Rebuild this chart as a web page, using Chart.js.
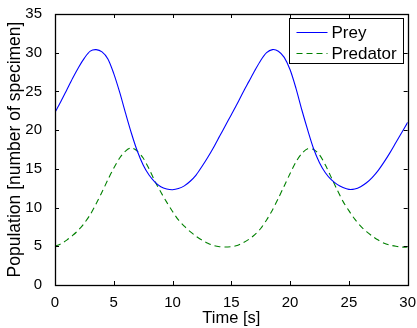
<!DOCTYPE html>
<html>
<head>
<meta charset="utf-8">
<script src="https://cdn.jsdelivr.net/npm/chart.js@4.4.1/dist/chart.umd.min.js"></script>
<style>
  html, body { margin: 0; padding: 0; background: #fff; }
  #wrap { width: 417px; height: 328px; position: relative; }
</style>
</head>
<body>
<div id="wrap"><canvas id="lvCV"></canvas></div>
<script>
// time axis [s], one sample each half second
const times = [0, 0.5, 1, 1.5, 2, 2.5, 3, 3.5, 4, 4.5, 5, 5.5, 6, 6.5, 7, 7.5, 8, 8.5, 9, 9.5,
  10, 10.5, 11, 11.5, 12, 12.5, 13, 13.5, 14, 14.5, 15, 15.5, 16, 16.5, 17, 17.5, 18, 18.5, 19, 19.5,
  20, 20.5, 21, 21.5, 22, 22.5, 23, 23.5, 24, 24.5, 25, 25.5, 26, 26.5, 27, 27.5, 28, 28.5, 29, 29.5, 30];

const prey = [22.3, 23.7, 25.2, 26.7, 28.1, 29.3, 30.2, 30.4, 30.1, 29.2,
  27.3, 24.9, 22.2, 19.6, 17.3, 15.5, 14.2, 13.3, 12.7, 12.4,
  12.3, 12.45, 12.8, 13.4, 14.2, 15.3, 16.5, 17.8, 19.2, 20.6,
  22.0, 23.4, 24.9, 26.3, 27.7, 29.0, 30.0, 30.4, 30.2, 29.4,
  27.8, 25.4, 22.6, 20.0, 17.6, 15.8, 14.5, 13.6, 13.0, 12.6,
  12.35, 12.4, 12.7, 13.2, 13.9, 14.8, 15.9, 17.1, 18.4, 19.7, 21.0];

const predator = [5.0, 5.3, 5.8, 6.4, 7.1, 8.0, 9.1, 10.5, 12.0, 13.6,
  15.1, 16.4, 17.3, 17.7, 17.3, 16.4, 15.0, 13.4, 12.0, 10.7,
  9.5, 8.4, 7.6, 6.9, 6.3, 5.8, 5.4, 5.1, 4.95, 4.9,
  4.95, 5.1, 5.45, 5.9, 6.5, 7.3, 8.4, 9.7, 11.2, 12.8,
  14.4, 15.9, 17.0, 17.6, 17.5, 16.8, 15.5, 13.9, 12.3, 10.8,
  9.6, 8.5, 7.6, 6.9, 6.3, 5.8, 5.4, 5.15, 5.0, 4.9, 4.9];

const seriesNames = ['Prey', 'Predator'];
const xTitle = 'Time [s]';
const yTitle = 'Population [number of specimen]';

const FONT = '"Liberation Sans", Arial, Helvetica, sans-serif';

function pts(vals) {
  return vals.map((v, i) => ({ x: times[i], y: v }));
}

// box round the plot with ticks pointing inwards, like matlab
const boxTicks = {
  id: 'boxTicks',
  afterDraw(chart) {
    const { ctx, chartArea: a, scales } = chart;
    const len = 4;
    ctx.save();
    ctx.strokeStyle = '#000';
    ctx.lineWidth = 1;
    ctx.beginPath();
    scales.x.ticks.forEach(t => {
      const px = Math.round(scales.x.getPixelForValue(t.value)) + 0.5;
      ctx.moveTo(px, a.bottom); ctx.lineTo(px, a.bottom - len);
      ctx.moveTo(px, a.top); ctx.lineTo(px, a.top + len);
    });
    scales.y.ticks.forEach(t => {
      const py = Math.round(scales.y.getPixelForValue(t.value)) + 0.5;
      ctx.moveTo(a.left, py); ctx.lineTo(a.left + len, py);
      ctx.moveTo(a.right, py); ctx.lineTo(a.right - len, py);
    });
    ctx.stroke();
    ctx.lineWidth = 1.3;
    ctx.strokeRect(Math.round(a.left) + 0.5, Math.round(a.top) + 0.5,
      Math.round(a.right - a.left), Math.round(a.bottom - a.top));
    ctx.restore();
  }
};

// legend box in the upper right corner of the plot
const boxLegend = {
  id: 'boxLegend',
  afterDraw(chart) {
    const { ctx, chartArea: a } = chart;
    const w = 114, h = 45;
    const x0 = Math.round(a.right - 5 - w) + 0.5;
    const y0 = Math.round(a.top + 4) + 0.5;
    ctx.save();
    ctx.fillStyle = '#fff';
    ctx.fillRect(x0, y0, w, h);
    ctx.strokeStyle = '#000';
    ctx.lineWidth = 1;
    ctx.strokeRect(x0, y0, w, h);
    ctx.font = '17px ' + FONT;
    ctx.textBaseline = 'middle';
    chart.data.datasets.forEach((ds, i) => {
      const yy = Math.round(y0 + 13 + i * 21) + 0.5;
      ctx.strokeStyle = ds.borderColor;
      ctx.setLineDash(ds.borderDash || []);
      ctx.beginPath();
      ctx.moveTo(x0 + 7, yy);
      ctx.lineTo(x0 + 38, yy);
      ctx.stroke();
      ctx.setLineDash([]);
      ctx.fillStyle = '#000';
      ctx.fillText(ds.label, x0 + 42, yy + 1);
    });
    ctx.restore();
  }
};

new Chart(document.getElementById('lvCV'), {
  type: 'line',
  data: {
    datasets: [{
      label: seriesNames[0],
      data: pts(prey),
      borderColor: '#0000ff',
      borderWidth: 1.1,
      pointRadius: 0,
      tension: 0.3
    }, {
      label: seriesNames[1],
      data: pts(predator),
      borderColor: '#008000',
      borderWidth: 1.1,
      borderDash: [6, 4],
      pointRadius: 0,
      tension: 0.3
    }]
  },
  options: {
    responsive: true,
    maintainAspectRatio: false,
    animation: false,
    layout: {
      padding: { top: 12, right: 9, left: 0, bottom: 0 }
    },
    plugins: {
      legend: { display: false },
      tooltip: { enabled: false }
    },
    scales: {
      x: {
        type: 'linear',
        min: 0,
        max: 30,
        grid: { display: false },
        border: { display: false },
        ticks: {
          stepSize: 5,
          padding: 1,
          color: '#000',
          maxRotation: 0,
          font: { family: FONT, size: 15 }
        },
        title: {
          display: true,
          text: xTitle,
          color: '#000',
          padding: { top: -4, bottom: 0 },
          font: { family: FONT, size: 16.5 }
        },
        afterFit(scale) { scale.height = 43; }
      },
      y: {
        min: 0,
        max: 35,
        grid: { display: false },
        border: { display: false },
        ticks: {
          stepSize: 5,
          padding: 5,
          color: '#000',
          font: { family: FONT, size: 15 }
        },
        title: {
          display: true,
          text: yTitle,
          color: '#000',
          padding: { top: 5, bottom: 0 },
          font: { family: FONT, size: 17.5 }
        },
        afterFit(scale) { scale.width = 55; }
      }
    }
  },
  plugins: [boxTicks, boxLegend]
});
</script>
</body>
</html>
